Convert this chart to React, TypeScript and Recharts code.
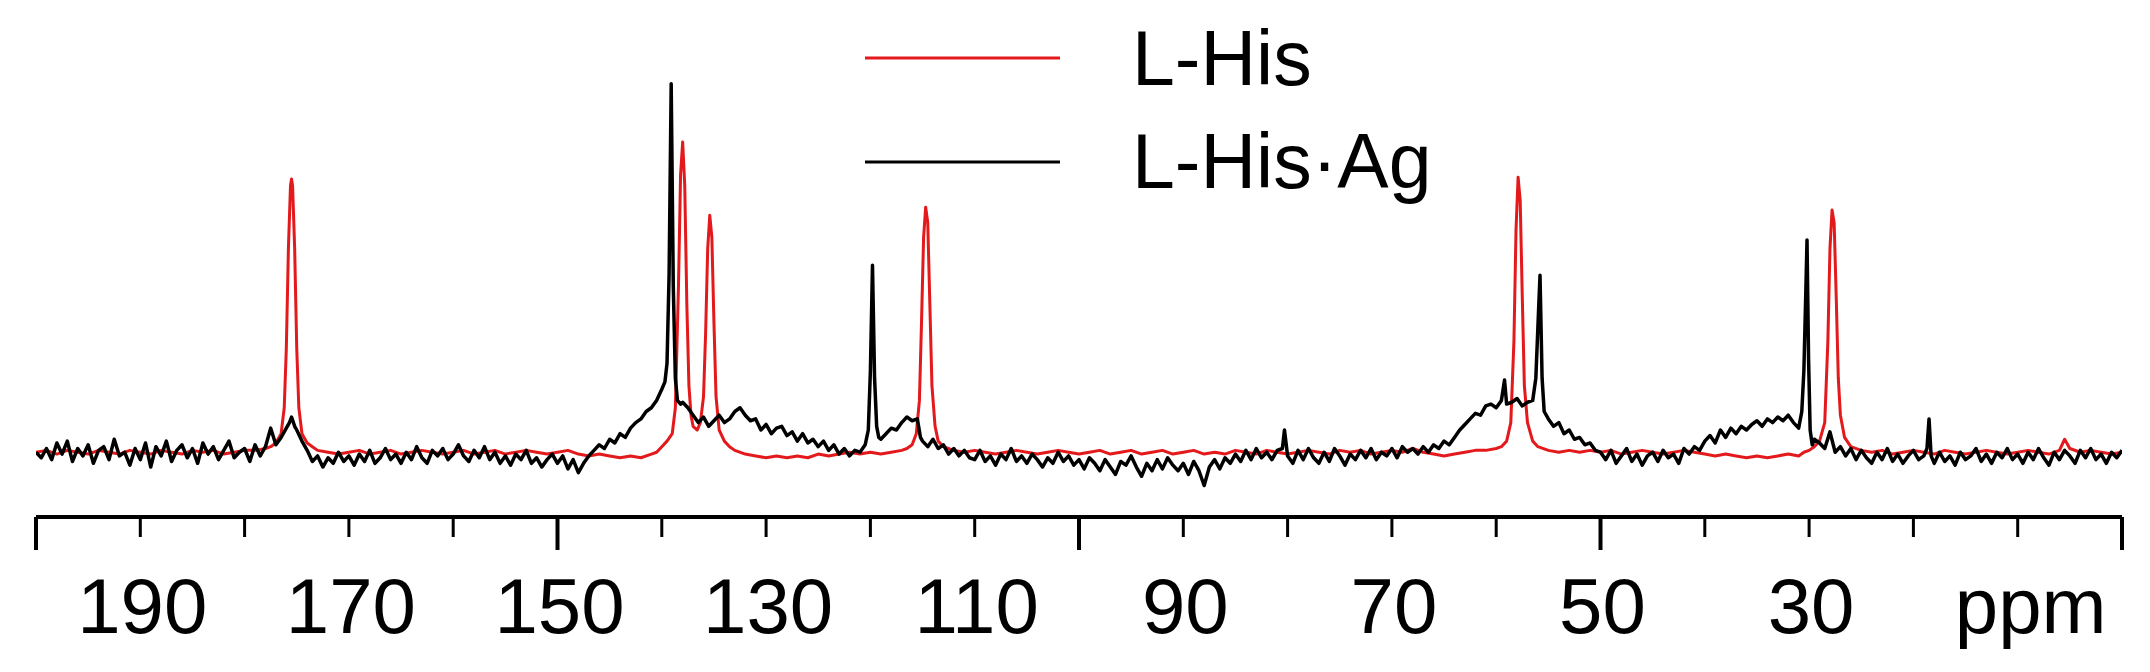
import { LineChart, Line, XAxis, YAxis } from 'recharts';

const FONT = '"Liberation Sans", Arial, Helvetica, sans-serif';
const RED = '#e3191c';
const BLACK = '#000000';

// axis
const ppmTicks = [200, 190, 180, 170, 160, 150, 140, 130, 120, 110, 100, 90, 80, 70, 60, 50, 40, 30, 20, 10, 0];
const majorTicks = [200, 150, 100, 50, 0];
const labelledTicks = [190, 170, 150, 130, 110, 90, 70, 50, 30];
const unitTick = 10;
const unitLabel = 'ppm';

const seriesNames = ['L-His', 'L-His\u00b7Ag'];

// L-His (red) [ppm, intensity]
const hisPoints: number[][] = [
  [200, 0], [199, 0.5], [198, -0.5], [197, 0.5], [196, 0], [195, -0.5], [194, 0.5], [193, 0], [192, -0.5], [191, 0.5],
  [190, 0], [189, -0.5], [188, 0.5], [187, 0], [186, -0.5], [185, 0.5], [184, 0], [183, 0.5], [182, -0.5], [181, 0],
  [180, 0.5], [179, 0.5], [178, 1], [177.5, 1.5], [177, 2.5], [176.5, 5], [176.2, 12], [176, 28], [175.8, 55], [175.6, 72],
  [175.5, 73.8], [175.4, 72], [175.2, 55], [175, 28], [174.8, 12], [174.5, 5], [174, 2.5], [173.5, 1.5], [173, 0.5], [172, 0],
  [171, -0.5], [170, 0], [169, 0.5], [168, -0.5], [167, 0], [166, 0.5], [165, -0.5], [164, 0], [163, 0.5], [162, 0],
  [161, -0.5], [160, 0], [159, 0.5], [158, -0.5], [157, 0], [156, 0.5], [155, -0.5], [154, 0], [153, 0.5], [152, 0],
  [151, -0.5], [150, 0], [149, 0.5], [148, -0.5], [147, -1], [146, -0.5], [145, -1], [144, -1.5], [143, -1], [142, -1.5],
  [141, -0.5], [140.5, 0], [140, 1.5], [139.5, 3], [139, 5], [138.7, 12], [138.4, 45], [138.2, 75], [138, 83.8], [137.8, 72],
  [137.6, 40], [137.4, 18], [137.2, 10], [137, 7], [136.6, 6], [136.3, 8], [136, 15], [135.8, 32], [135.6, 55], [135.4, 64],
  [135.2, 58], [135, 35], [134.8, 15], [134.5, 6], [134, 3], [133.5, 1.5], [133, 0.5], [132, -0.5], [131, -1], [130, -1.5],
  [129, -1], [128, -1.5], [127, -1], [126, -1.5], [125, -0.5], [124, -1], [123, -0.5], [122, 0], [121, -0.5], [120, 0],
  [119, -0.5], [118, 0], [117, 0.5], [116.5, 1], [116, 2], [115.6, 5], [115.3, 14], [115.1, 35], [114.9, 58], [114.7, 66.2],
  [114.5, 62], [114.3, 40], [114.1, 18], [113.8, 7], [113.5, 3], [113, 1.5], [112, 0.5], [111, 0], [110, 0.5], [109, 0],
  [108, -0.5], [107, 0], [106, 0.5], [105, 0], [104, -0.5], [103, 0], [102, 0.5], [101, 0], [100, -0.5], [99, 0],
  [98, 0.5], [97, -0.5], [96, 0], [95, 0.5], [94, -0.5], [93, 0], [92, 0.5], [91, -0.5], [90, 0], [89, 0.5],
  [88, -0.5], [87, 0], [86, -0.5], [85, 0.5], [84, 0], [83, -0.5], [82, 0.5], [81, 0], [80, -0.5], [79, 0],
  [78, 0.5], [77, 0], [76, -0.5], [75, 0.5], [74, 0], [73, 0.5], [72, -0.5], [71, 0], [70, 0.5], [69, 0],
  [68, 1], [67, 0], [66, -0.5], [65, -1], [64, -0.5], [63, 0], [62, 0.5], [61, 0.5], [60, 1], [59.5, 1.5],
  [59, 3], [58.6, 8], [58.3, 30], [58.1, 60], [57.9, 74.3], [57.7, 68], [57.5, 42], [57.3, 18], [57, 8], [56.5, 3],
  [56, 1.5], [55, 0.5], [54, 0], [53, 0.5], [52, 0], [51, 0.5], [50, 0], [49, 0.5], [48, -0.5], [47, 0],
  [46, 0.5], [45, 0], [44, -0.5], [43, 0], [42, 0.5], [41, 0], [40, -0.5], [39, -1], [38, -0.5], [37, -1],
  [36, -1.5], [35, -1], [34, -1.5], [33, -1], [32, -0.5], [31, -1], [30.5, 0], [30, 0.5], [29.5, 1.5], [29, 3],
  [28.5, 8], [28.2, 30], [28, 55], [27.8, 65.4], [27.6, 62], [27.4, 42], [27.2, 20], [27, 10], [26.6, 4], [26, 1.5],
  [25, 0.5], [24, 0], [23, 0.5], [22, -0.5], [21, 0], [20, 0.5], [19, 0], [18, -0.5], [17, 0.5], [16, 0],
  [15, -0.5], [14, 0], [13, 0.5], [12, 0], [11, -0.5], [10, 0], [9, 0.5], [8, 0], [7, -0.5], [6, 0.5],
  [5.5, 3.5], [5, 1], [4, 0], [3, 0.5], [2, 0], [1, -0.5], [0, 0],
];

// L-His·Ag (black) [ppm, intensity]
const hisAgPoints: number[][] = [
  [200, 0], [199.5, -1.5], [199, 1], [198.5, -2], [198, 2.5], [197.5, -0.5], [197, 3], [196.5, -2.5], [196, 1], [195.5, -1],
  [195, 2], [194.5, -3], [194, 0.5], [193.5, 1.5], [193, -2], [192.5, 3.5], [192, -1], [191.5, 0], [191, -3.5], [190.5, 1],
  [190, -2], [189.5, 2.5], [189, -4], [188.5, 1.5], [188, -1], [187.5, 3], [187, -2.5], [186.5, 0.5], [186, 2], [185.5, -1.5],
  [185, 1], [184.5, -3], [184, 2.5], [183.5, -0.5], [183, 1.5], [182.5, -2], [182, 0.5], [181.5, 3], [181, -1.5], [180.5, 0],
  [180, 1], [179.5, -2.5], [179, 2], [178.5, -1], [178, 1.5], [177.5, 6.5], [177, 2], [176.5, 4], [176, 6.5], [175.7, 8],
  [175.5, 9.5], [175.2, 7], [175, 6], [174.5, 3], [174, 0.5], [173.5, -2.5], [173, -1], [172.5, -4], [172, -1.5], [171.5, -3],
  [171, 0], [170.5, -2.5], [170, -1], [169.5, -3.5], [169, -0.5], [168.5, -2.5], [168, 0.5], [167.5, -3], [167, -1.5], [166.5, 1],
  [166, -2], [165.5, -0.5], [165, -3], [164.5, 0], [164, -2], [163.5, 1.5], [163, -1.5], [162.5, -3], [162, 0.5], [161.5, -1],
  [161, 1], [160.5, -2], [160, -0.5], [159.5, 2], [159, -1], [158.5, -2.5], [158, 0.5], [157.5, -1.5], [157, 1.5], [156.5, -2],
  [156, 0], [155.5, -3], [155, -1], [154.5, -3.5], [154, -0.5], [153.5, -2], [153, 0.5], [152.5, -3], [152, -1.5], [151.5, -4],
  [151, -2], [150.5, -0.5], [150, -3], [149.5, -1], [149, -4.5], [148.5, -2], [148, -5.5], [147.5, -3], [147, -1], [146.5, 0.5],
  [146, 2], [145.5, 1], [145, 3.5], [144.5, 2.5], [144, 5], [143.5, 4], [143, 6.5], [142.5, 8], [142, 9], [141.5, 11],
  [141, 12], [140.5, 14], [140, 17], [139.7, 19], [139.5, 24], [139.3, 48], [139.1, 99.5], [138.9, 45], [138.7, 20], [138.5, 14],
  [138.2, 13], [138, 13.5], [137.5, 12], [137, 10], [136.5, 8], [136, 9.5], [135.5, 7], [135, 8.5], [134.5, 10], [134, 8],
  [133.5, 9], [133, 11], [132.5, 12], [132, 10], [131.5, 8.5], [131, 9], [130.5, 6], [130, 7.5], [129.5, 5], [129, 6.5],
  [128.5, 7], [128, 4.5], [127.5, 5.5], [127, 3], [126.5, 5], [126, 2.5], [125.5, 3.5], [125, 1.5], [124.5, 3], [124, 0.5],
  [123.5, 2], [123, -0.5], [122.5, 1], [122, -1], [121.5, 0.5], [121, 0], [120.5, 2], [120.2, 6], [120, 22], [119.8, 50.5],
  [119.6, 20], [119.4, 7], [119.2, 4], [119, 3.5], [118.5, 5], [118, 6.5], [117.5, 6], [117, 8], [116.5, 9.5], [116, 8.5],
  [115.5, 9], [115.2, 4], [115, 3], [114.5, 1.5], [114, 3.5], [113.5, 1], [113, 2], [112.5, -0.5], [112, 1], [111.5, -1],
  [111, 0.5], [110.5, -1.5], [110, -2], [109.5, 0.5], [109, -2.5], [108.5, -1], [108, -3.5], [107.5, -0.5], [107, -2], [106.5, 1],
  [106, -2.5], [105.5, -1], [105, -3], [104.5, -0.5], [104, -2], [103.5, -4], [103, -1.5], [102.5, -3], [102, 0], [101.5, -2.5],
  [101, -1], [100.5, -3.5], [100, -2], [99.5, -4.5], [99, -1.5], [98.5, -3], [98, -5], [97.5, -2], [97, -4], [96.5, -6],
  [96, -2.5], [95.5, -3.5], [95, -1], [94.5, -4], [94, -6.5], [93.5, -3], [93, -5], [92.5, -2], [92, -4.5], [91.5, -1.5],
  [91, -3.5], [90.5, -5], [90, -3], [89.5, -6], [89, -2.5], [88.5, -5], [88, -9], [87.5, -4], [87, -2], [86.5, -4.5],
  [86, -1.5], [85.5, -3], [85, -0.5], [84.5, -2.5], [84, 0.5], [83.5, -2], [83, 1], [82.5, -1.5], [82, 0], [81.5, -2],
  [81, 0.5], [80.5, 1], [80.3, 6], [80, -1], [79.5, -3], [79, 0.5], [78.5, -2], [78, 1], [77.5, -1.5], [77, -3],
  [76.5, 0], [76, -2.5], [75.5, 1], [75, -1], [74.5, -3.5], [74, -0.5], [73.5, -2], [73, 0.5], [72.5, -1.5], [72, 1],
  [71.5, -2], [71, 0], [70.5, -1], [70, 1], [69.5, -1.5], [69, 1.5], [68.5, 0], [68, 1], [67.5, -0.5], [67, 1.5],
  [66.5, 0], [66, 2], [65.5, 1], [65, 3], [64.5, 2], [64, 4], [63.5, 6], [63, 7.5], [62.5, 9], [62, 10.5],
  [61.5, 10], [61, 12.5], [60.5, 13], [60, 12], [59.5, 14], [59.2, 19.5], [59, 13], [58.5, 13.5], [58, 14.5], [57.5, 12.5],
  [57, 13.5], [56.5, 14], [56.2, 20], [56, 34], [55.8, 47.8], [55.6, 20], [55.4, 11], [55, 9], [54.5, 7], [54, 8],
  [53.5, 5], [53, 6], [52.5, 3.5], [52, 4], [51.5, 2], [51, 2.5], [50.5, 0.5], [50, 0], [49.5, -2], [49, 0.5],
  [48.5, -3], [48, -1], [47.5, 1], [47, -2.5], [46.5, -0.5], [46, -3.5], [45.5, -1], [45, 0], [44.5, -2.5], [44, 0.5],
  [43.5, -1.5], [43, -0.5], [42.5, -3], [42, 1], [41.5, -0.5], [41, 1.5], [40.5, 0.5], [40, 3], [39.5, 4.5], [39, 2.5],
  [38.5, 6], [38, 4], [37.5, 6.5], [37, 5], [36.5, 7], [36, 6], [35.5, 7.5], [35, 8.5], [34.5, 7], [34, 9],
  [33.5, 8], [33, 9.5], [32.5, 8.5], [32, 10], [31.5, 8], [31, 6.5], [30.7, 11], [30.5, 22], [30.3, 45], [30.2, 57.3],
  [30.05, 25], [29.9, 6], [29.7, 2], [29.5, 3.5], [29, 2.5], [28.5, 1], [28, 5.5], [27.5, 0], [27, 1.5], [26.5, -1],
  [26, 1], [25.5, -2], [25, 0.5], [24.5, -1.5], [24, -3], [23.5, 0], [23, -2], [22.5, 1], [22, -2.5], [21.5, -0.5],
  [21, -3], [20.5, -1], [20, 0.5], [19.5, -2], [19, -1], [18.7, 1], [18.5, 9], [18.3, -1], [18, -3], [17.5, 0],
  [17, -2.5], [16.5, -1], [16, -3.5], [15.5, 0], [15, -2], [14.5, -1], [14, 1], [13.5, -2.5], [13, -0.5], [12.5, -3],
  [12, 0], [11.5, -1.5], [11, 1], [10.5, -2], [10, -0.5], [9.5, -3], [9, 0], [8.5, -2], [8, 1], [7.5, -1.5],
  [7, -3.5], [6.5, 0], [6, -2], [5.5, 0.5], [5, -1], [4.5, -3], [4, 0.5], [3.5, -1.5], [3, 1], [2.5, -2],
  [2, -0.5], [1.5, -3], [1, 0], [0.5, -1.5], [0, 0.5],
];

const hisData = hisPoints.map(([ppm, v]) => ({ ppm, v }));
const hisAgData = hisAgPoints.map(([ppm, v]) => ({ ppm, v }));

function PpmTick({ x, y, payload }: any) {
  const v = payload.value;
  const major = majorTicks.includes(v);
  const label = labelledTicks.includes(v) ? String(v) : v === unitTick ? unitLabel : '';
  return (
    <g>
      <line x1={x} y1={y} x2={x} y2={y + (major ? 33 : 20)} stroke={BLACK} strokeWidth={major ? 4 : 3} />
      {label && (
        <text x={x + (v === unitTick ? 13 : 2)} y={y + 116} textAnchor="middle" fontFamily={FONT} fontSize={78} fill={BLACK}>
          {label}
        </text>
      )}
    </g>
  );
}

export default function App() {
  return (
    <div style={{ position: 'absolute', left: 0, top: 0, width: 2150, height: 672, background: '#fff' }}>
      <LineChart width={2150} height={672} margin={{ top: 45, right: 28, left: 36, bottom: 0 }}>
        <XAxis
          dataKey="ppm"
          type="number"
          domain={[0, 200]}
          reversed
          allowDataOverflow
          ticks={ppmTicks}
          interval={0}
          height={155}
          tickSize={0}
          tickMargin={0}
          tickLine={false}
          axisLine={{ stroke: BLACK, strokeWidth: 4 }}
          tick={<PpmTick />}
        />
        <YAxis hide width={0} type="number" domain={[-17.5, 110]} allowDataOverflow />
        <Line data={hisData} dataKey="v" name={seriesNames[0]} type="linear" stroke={RED} strokeWidth={3}
          dot={false} isAnimationActive={false} strokeLinejoin="round" />
        <Line data={hisAgData} dataKey="v" name={seriesNames[1]} type="linear" stroke={BLACK} strokeWidth={3.5}
          dot={false} isAnimationActive={false} strokeLinejoin="round" />
      </LineChart>
      {/* legend */}
      <svg width={2150} height={672} style={{ position: 'absolute', left: 0, top: 0, pointerEvents: 'none' }}>
        <line x1={865} y1={58} x2={1060} y2={58} stroke={RED} strokeWidth={3} />
        <text x={1132} y={85} fontFamily={FONT} fontSize={77} fill={BLACK}>{seriesNames[0]}</text>
        <line x1={865} y1={162} x2={1060} y2={162} stroke={BLACK} strokeWidth={3} />
        <text x={1132} y={188} fontFamily={FONT} fontSize={77} fill={BLACK}>{seriesNames[1]}</text>
      </svg>
    </div>
  );
}
